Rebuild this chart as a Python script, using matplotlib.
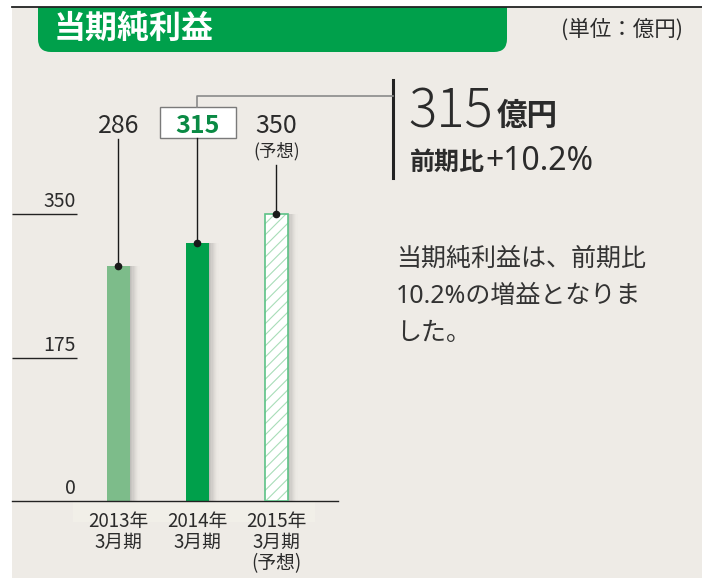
"""当期純利益 (単位：億円) — bar panel with callout, redrawn in matplotlib."""
import numpy as np
import matplotlib
matplotlib.use("Agg")
import matplotlib.pyplot as plt
from matplotlib.patches import Rectangle, FancyBboxPatch

plt.rcParams["font.family"] = ["Noto Sans CJK JP", "DejaVu Sans"]
plt.rcParams["hatch.linewidth"] = 0.8
LATIN = ["Noto Sans", "Noto Sans CJK JP"]  # wider digits, CJK falls back

# data
periods = ["2013年\n3月期", "2014年\n3月期", "2015年\n3月期\n(予想)"]
profit = [286, 315, 350]
value_labels = ["286", "315", "350"]
y_ticks = [0, 175, 350]
paragraph = ["当期純利益は、前期比", "10.2%の増益となりま", "した。"]

W, H = 702, 578
BG = "#EEEBE6"
GREEN = "#00A04B"
LIGHT = "#7DBC8A"
HATCH_EDGE = "#5CC286"
TXT = "#2B2B2B"

# pixel layout of the bar panel
X0, STEP = 118.5, 79.0
BASE, PPU = 501.0, 287.0 / 350.0


def dx(px):
    return (px - X0) / STEP


def dy(py):
    return (BASE - py) / PPU


fig = plt.figure(figsize=(W / 100, H / 100), dpi=100)
fig.patch.set_facecolor("white")

# background layer in pixel coords
bg = fig.add_axes([0, 0, 1, 1], zorder=0)
bg.set_xlim(0, W); bg.set_ylim(H, 0); bg.axis("off")
bg.add_patch(Rectangle((12, 7), W - 12, H - 7, color=BG, lw=0))
bg.add_patch(FancyBboxPatch((38, -30), 469, 82,
                            boxstyle="round,pad=0,rounding_size=13",
                            fc=GREEN, ec="none"))
bg.add_patch(Rectangle((0, -40), W, 47, color="white", lw=0))
bg.plot([12, W], [7, 7], color="#222", lw=1.3)
bg.add_patch(Rectangle((73, 501), 242, 21, color="#F1EFE8", lw=0))

bg.text(54, 29, "当期純利益", color="white", fontsize=23, weight="bold",
        va="center", ha="left")
bg.text(683, 30, "(単位：億円)", color=TXT, fontsize=15.5, va="center", ha="right")

# callout on the right
bg.plot([393, 393], [80, 178], color="#222", lw=2.2)
bg.text(408, 127, "315", fontsize=38, weight="light", color=TXT, va="baseline")
bg.text(497, 125, "億円", fontsize=22, weight="bold", color=TXT, va="baseline")
bg.text(410, 170, "前期比", fontsize=18, weight="bold", color=TXT, va="baseline")
bg.text(485, 170, "+10.2%", fontsize=23, family=LATIN, color=TXT, va="baseline")
for i, line in enumerate(paragraph):
    bg.text(396, 259 + 37.5 * i, line, fontsize=18, family=LATIN, color="#333",
            va="center")

# bar panel
ax = fig.add_axes([12 / W, (H - BASE) / H, 326 / W, (BASE - 60) / H], zorder=1)
ax.set_facecolor("none")
ax.set_xlim(dx(12), dx(338)); ax.set_ylim(0, dy(60))
for s in ["top", "right", "left"]:
    ax.spines[s].set_visible(False)
ax.spines["bottom"].set_color("#222"); ax.spines["bottom"].set_linewidth(1)
ax.set_xticks([]); ax.set_yticks([])

x = np.arange(len(profit))
w = 23 / STEP
sw = 1.2 / STEP
for i in range(8):
    ax.bar(x + w / 2 + (i + 0.5) * sw, profit, width=sw, color="#555",
           alpha=0.30 * (1 - i / 8) ** 1.6, lw=0, zorder=1)
ax.bar(x[0], profit[0], w, color=LIGHT, lw=0, zorder=2)
ax.bar(x[1], profit[1], w, color=GREEN, lw=0, zorder=2)
ax.bar(x[2], profit[2], w, color="white", edgecolor="#A8DDB8", hatch="///",
       lw=0, zorder=2)
ax.bar(x[2], profit[2], w, fill=False, edgecolor=HATCH_EDGE, lw=1.2, zorder=3)

# leader lines
ax.plot([x[0], x[0]], [profit[0], dy(139)], color="#1A1A1A", lw=1, zorder=4)
ax.plot([x[1], x[1]], [profit[1], dy(138)], color="#1A1A1A", lw=1, zorder=4)
ax.plot([x[2], x[2]], [profit[2], dy(165)], color="#1A1A1A", lw=1, zorder=4)
ax.plot([x[1], x[1], dx(393)], [dy(107), dy(96), dy(96)], color="#8A8A8A",
        lw=1.2, clip_on=False, zorder=4)
ax.plot(x, profit, "o", ms=4.5, color="#1A1A1A", zorder=5)

# value labels
ax.add_patch(Rectangle((dx(160), dy(138)), dx(236) - dx(160), dy(107) - dy(138),
                       fc="white", ec="#7A7A7A", lw=1, clip_on=False, zorder=3))
for i, lab in enumerate(value_labels):
    if i == 1:
        ax.text(x[i], dy(133), lab, ha="center", va="baseline", fontsize=18,
                weight="bold", color="#0A8A44", zorder=4)
    else:
        ax.text(x[i], dy(133), lab, ha="center", va="baseline", fontsize=18,
                color=TXT, zorder=4)
ax.text(x[2], dy(156), "(予想)", ha="center", va="baseline", fontsize=12.5, color=TXT)

# y ticks drawn as short rules with labels above
ax.hlines([t for t in y_ticks if t > 0], dx(12), dx(77), color="#222", lw=1)
for t in y_ticks:
    ax.text(dx(76), t + 7 / PPU, str(t), ha="right", va="baseline",
            fontsize=14, color=TXT)

# category labels, one line at a time
for i, lab in enumerate(periods):
    for k, part in enumerate(lab.split("\n")):
        ax.text(x[i], dy(527 + 21 * k), part, ha="center", va="baseline",
                fontsize=13.5, color=TXT, clip_on=False)

fig.savefig("out.png", dpi=100)
